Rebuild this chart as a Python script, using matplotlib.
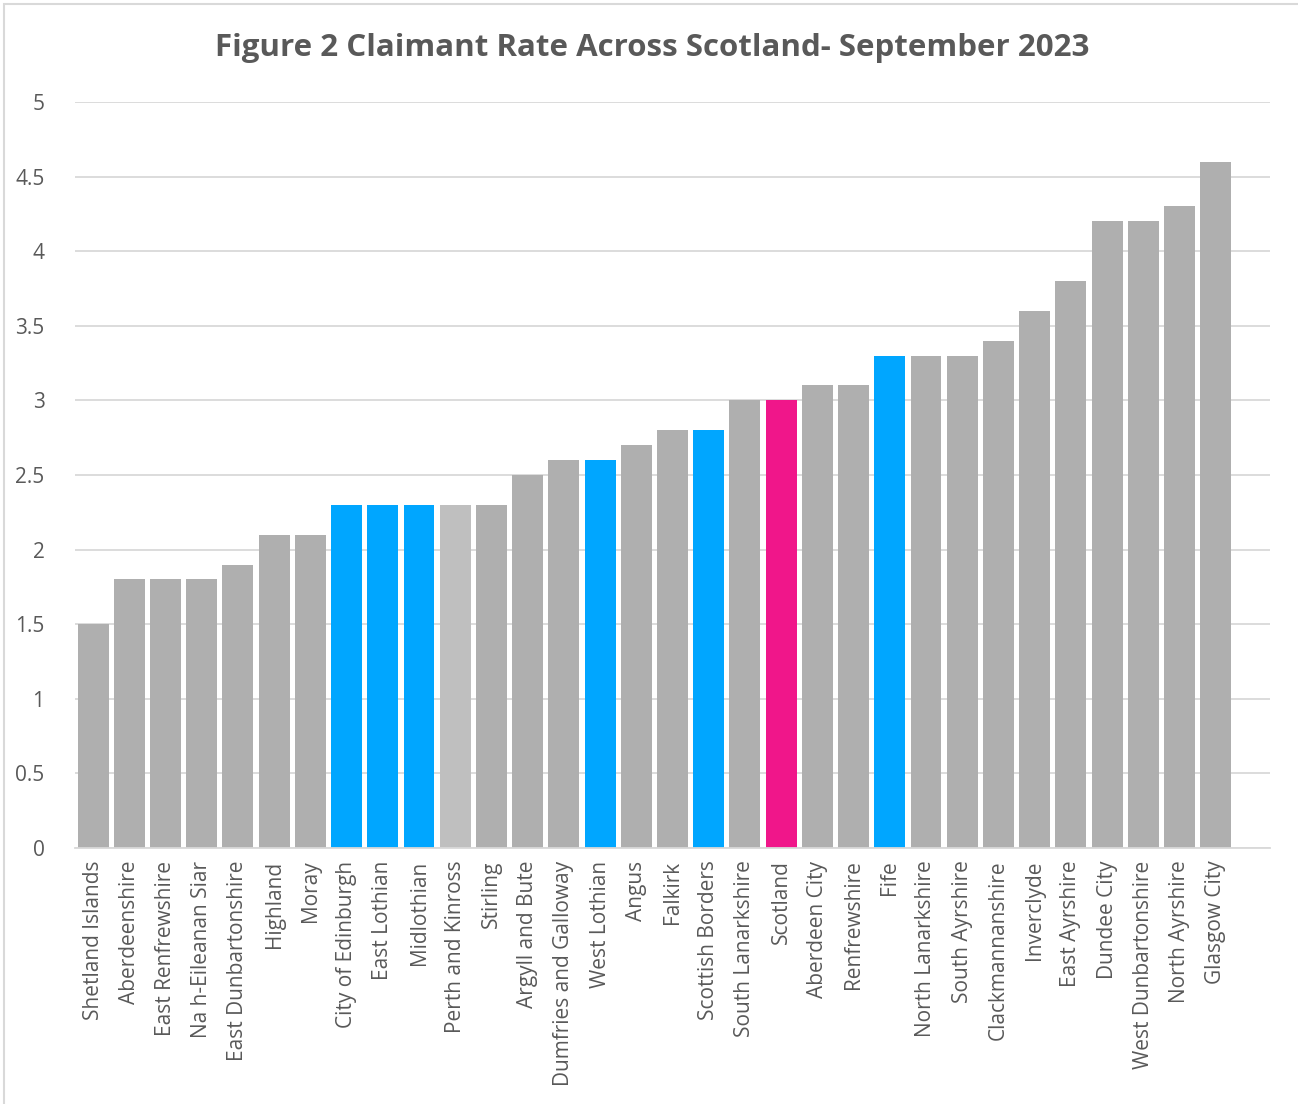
import matplotlib.pyplot as plt
from matplotlib.patches import Rectangle

# data
areas = ['Shetland Islands', 'Aberdeenshire', 'East Renfrewshire', 'Na h-Eileanan Siar',
         'East Dunbartonshire', 'Highland', 'Moray', 'City of Edinburgh', 'East Lothian',
         'Midlothian', 'Perth and Kinross', 'Stirling', 'Argyll and Bute',
         'Dumfries and Galloway', 'West Lothian', 'Angus', 'Falkirk', 'Scottish Borders',
         'South Lanarkshire', 'Scotland', 'Aberdeen City', 'Renfrewshire', 'Fife',
         'North Lanarkshire', 'South Ayrshire', 'Clackmannanshire', 'Inverclyde',
         'East Ayrshire', 'Dundee City', 'West Dunbartonshire', 'North Ayrshire',
         'Glasgow City']
rates = [1.5, 1.8, 1.8, 1.8, 1.9, 2.1, 2.1, 2.3, 2.3, 2.3, 2.3, 2.3, 2.5, 2.6, 2.6, 2.7,
         2.8, 2.8, 3.0, 3.0, 3.1, 3.1, 3.3, 3.3, 3.3, 3.4, 3.6, 3.8, 4.2, 4.2, 4.3, 4.6]
highlight_blue = ['City of Edinburgh', 'East Lothian', 'Midlothian', 'West Lothian',
                  'Scottish Borders', 'Fife']
yticks = [0, 0.5, 1, 1.5, 2, 2.5, 3, 3.5, 4, 4.5, 5]
ytick_labels = ['0', '0.5', '1', '1.5', '2', '2.5', '3', '3.5', '4', '4.5', '5']

GREY = '#AFAFAF'
BLUE = '#00A6FF'
PINK = '#F0168A'
LIGHT = '#BFBFBF'
TEXT = '#595959'

colors = []
for a in areas:
    if a == 'Scotland':
        colors.append(PINK)
    elif a in highlight_blue:
        colors.append(BLUE)
    elif a == 'Perth and Kinross':
        colors.append(LIGHT)
    else:
        colors.append(GREY)

plt.rcParams['font.family'] = ['Open Sans', 'DejaVu Sans']

fig = plt.figure(figsize=(12.98, 11.04), dpi=100, facecolor='white')
ax = fig.add_axes([75 / 1298, 1 - 848 / 1104, (1270 - 75) / 1298, (848 - 102) / 1104])

x = range(len(areas))
ax.bar(x, rates, width=0.855, color=colors, zorder=3)

# the source chart leaves one empty category slot on the right
ax.set_xlim(-0.5, len(areas) + 0.5)
ax.set_ylim(0, 5)
ax.set_yticks(yticks)
ax.set_yticklabels(ytick_labels, fontsize=15, color=TEXT)
ax.set_xticks(list(x))
ax.set_xticklabels(areas, rotation=90, fontsize=15, color=TEXT, ha='center', va='top')
ax.tick_params(axis='both', length=0)
ax.tick_params(axis='y', pad=22)
ax.tick_params(axis='x', pad=9)

ax.grid(axis='y', color='#D9D9D9', linewidth=1.3, zorder=0)
for s in ['top', 'right', 'left']:
    ax.spines[s].set_visible(False)
ax.spines['bottom'].set_color('#D9D9D9')
ax.spines['bottom'].set_linewidth(1.3)
ax.spines['bottom'].set_zorder(4)

fig.text(652 / 1298, 1 - 48 / 1104, 'Figure 2 Claimant Rate Across Scotland- September 2023',
         ha='center', va='center', fontsize=22.5, fontweight='bold', color=TEXT)

# chart area border (only left and top edges visible in the crop)
fig.patches.append(Rectangle((4 / 1298, -0.1), 1.2, 1.1 - 4 / 1104,
                             transform=fig.transFigure, fill=False,
                             edgecolor='#D9D9D9', linewidth=1.5))

fig.savefig('out.png', dpi=100, facecolor='white')
